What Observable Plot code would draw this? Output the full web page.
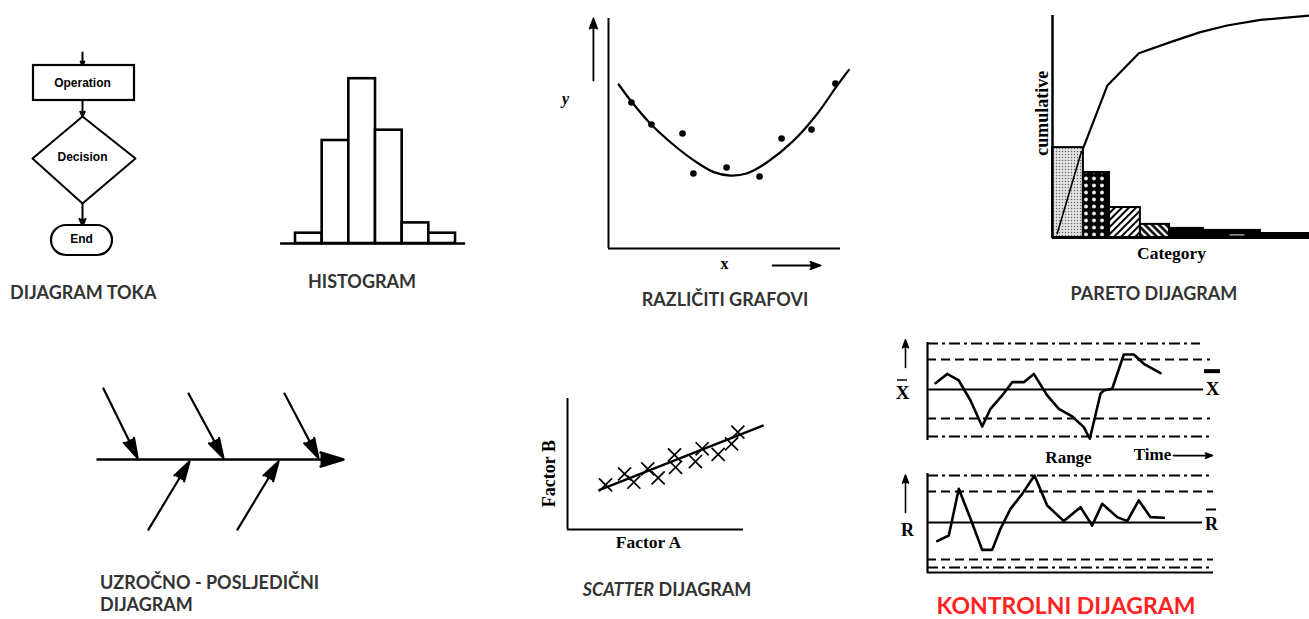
<!DOCTYPE html>
<html><head><meta charset="utf-8">
<script src="https://cdn.jsdelivr.net/npm/d3@7"></script>
<script src="https://cdn.jsdelivr.net/npm/@observablehq/plot@0.6"></script>
<style>
html,body{margin:0;padding:0;background:#fff;}
#page{position:relative;width:1309px;height:619px;overflow:hidden;background:#fff;}
.ttl{position:absolute;font-family:Lato,"Open Sans",sans-serif;font-weight:700;font-size:18px;color:#333;white-space:nowrap;line-height:1.1;}
.ctr{transform:translate(-50%,-50%);}
.lft{transform:translate(0,-50%);}
</style></head><body><div id="page"></div>
<script>
// ================= DATA =================
const titleFlow = "DIJAGRAM TOKA";
const titleHist = "HISTOGRAM";
const titleGraph = "RAZLIČITI GRAFOVI";
const titlePareto = "PARETO DIJAGRAM";
const titleFish = ["UZROČNO - POSLJEDIČNI", "DIJAGRAM"];
const titleScatter = ["SCATTER", " DIJAGRAM"];
const titleControl = "KONTROLNI DIJAGRAM";

const flowLabels = ["Operation", "Decision", "End"];

const histBins = [0, 1, 2, 3, 4, 5];
const histCounts = [1, 10, 16, 11, 2, 1];

const graphX = [0.99, 1.85, 3.19, 3.66, 5.09, 6.51, 7.46, 8.75, 9.78];
const graphY = [6.35, 5.39, 5.00, 3.26, 3.52, 3.13, 4.78, 5.17, 7.17];
const fitX = [0.44, 0.98, 1.81, 2.67, 3.68, 4.54, 5.26, 5.98, 6.84, 7.99, 9.00, 9.86, 10.36];
const fitY = [7.13, 6.40, 5.42, 4.62, 3.83, 3.32, 3.17, 3.27, 3.75, 4.70, 5.86, 7.09, 7.77];

const paretoValues = [40.5, 29.3, 13.5, 5.9, 4.1, 3.2, 1.8];
const paretoCumX = [1.03, 1.83, 2.88, 3.93, 4.93, 5.82, 6.93, 8.57];
const paretoCum = [40.5, 68.5, 83, 88, 92.5, 95.5, 98, 100];
const paretoAxis = ["cumulative", "Category"];

const scatterA = [2.16, 3.24, 3.77, 4.56, 5.15, 6.08, 6.14, 7.27, 7.65, 8.56, 9.32, 9.68];
const scatterB = [3.41, 4.25, 3.61, 4.63, 3.94, 5.70, 4.75, 5.19, 6.16, 5.73, 6.54, 7.43];
const trendA = [1.76, 11.14];
const trendB = [2.98, 7.94];
const scatterAxis = ["Factor A", "Factor B"];

const xbarT = [0.8, 1.97, 3.13, 4.3, 5.47, 6.3, 7.47, 8.47, 9.63, 10.63, 11.97, 13.13, 14.47, 15.63, 16.23, 17.3, 17.63, 18.47, 19.63, 20.63, 21.63, 23.3];
const xbarV = [0.41, 1.02, 0.59, -0.72, -2.42, -1.26, -0.39, 0.48, 0.48, 1.02, -0.39, -1.26, -1.76, -2.46, -3.22, -0.28, -0.07, 0.05, 2.29, 2.29, 1.68, 1.07];
const xbarLimits = [3.0, 1.96, 0, -1.9, -3.07];
const rangeT = [0.97, 2.13, 3.13, 4.3, 5.47, 6.47, 7.3, 8.3, 9.47, 10.7, 11.97, 13.63, 15.3, 16.47, 17.47, 18.97, 19.97, 21.13, 22.3, 23.63];
const rangeV = [-1.22, -0.85, 2.20, 0.24, -1.79, -1.79, -0.41, 0.89, 1.87, 3.07, 1.11, 0.09, 1.0, -0.2, 1.22, 0.35, 0.09, 1.44, 0.35, 0.31];
const rangeLimits = [3.07, 2.03, 0, -2.42, -2.94, -3.27];
const controlText = ["X", "R", "Range", "Time"];

// ================= LAYOUT / STYLE =================
const page = document.getElementById("page");
const serif = "'Liberation Serif', 'Times New Roman', serif";
const sans = "'Liberation Sans', Arial, sans-serif";

function panel(L, T, W, H, ox, sx, oy, sy, marks) {
  const svg = Plot.plot({
    width: W, height: H, margin: 0,
    x: {domain: [(L - ox) / sx, (L + W - ox) / sx], axis: null},
    y: {domain: [(oy - T - H) / sy, (oy - T) / sy], axis: null},
    style: {position: "absolute", left: L + "px", top: T + "px", background: "transparent", maxWidth: "none", overflow: "visible", color: "black"},
    marks
  });
  page.appendChild(svg);
  return svg;
}
function title(html, x, y, cls, extra) {
  const d = document.createElement("div");
  d.className = "ttl " + cls;
  d.style.left = x + "px"; d.style.top = y + "px";
  d.innerHTML = html;
  if (extra) Object.assign(d.style, extra);
  page.appendChild(d);
}
const zip = (xs, ys) => xs.map((x, i) => ({x, y: ys[i]}));
const arrowOpts = (len, ang, sw) => ({x1: "x1", y1: "y1", x2: "x2", y2: "y2", headLength: len, headAngle: ang, fill: "black", stroke: "black", strokeWidth: sw});

// ---- 1. Flowchart ----
const flowShapes = {
  box: [{x1: 3.3, x2: 13.4, y1: 16.5, y2: 20.0}],
  diamond: [{x: 8.2, y: 14.9}, {x: 13.5, y: 10.7}, {x: 8.2, y: 6.2}, {x: 3.2, y: 10.7}, {x: 8.2, y: 14.9}],
  end: [{x1: 5.1, x2: 11.2, y1: 1.0, y2: 4.0}],
  arrows: [{x1: 8.2, y1: 21.3, x2: 8.2, y2: 20.0}, {x1: 8.2, y1: 16.5, x2: 8.2, y2: 14.9}, {x1: 8.2, y1: 6.2, x2: 8.2, y2: 4.0}],
  labels: [{x: 8.2, y: 18.2}, {x: 8.2, y: 10.8}, {x: 8.1, y: 2.6}]
};
panel(0, 40, 180, 230, 0, 10, 265, 10, [
  Plot.arrow(flowShapes.arrows, arrowOpts(6, 50, 2)),
  Plot.rect(flowShapes.box, {x1: "x1", x2: "x2", y1: "y1", y2: "y2", fill: "white", stroke: "black", strokeWidth: 2.2}),
  Plot.line(flowShapes.diamond, {x: "x", y: "y", stroke: "black", strokeWidth: 2, fill: "white"}),
  Plot.rect(flowShapes.end, {x1: "x1", x2: "x2", y1: "y1", y2: "y2", rx: 15, fill: "white", stroke: "black", strokeWidth: 2.2}),
  Plot.text(flowLabels, {x: (d, i) => flowShapes.labels[i].x, y: (d, i) => flowShapes.labels[i].y, text: d => d, fontFamily: sans, fontWeight: "bold", fontSize: 12, fill: "black"})
]);
title(titleFlow, 10, 293, "lft");

// ---- 2. Histogram ----
const histData = histBins.map((b, i) => ({x1: b, x2: b + 1, y: histCounts[i]}));
panel(270, 60, 210, 200, 295, 26.67, 243, 10.3, [
  Plot.rect(histData, {x1: "x1", x2: "x2", y1: 0, y2: "y", fill: "white", stroke: "black", strokeWidth: 2.6}),
  Plot.ruleY([0], {x1: -0.56, x2: 6.38, strokeWidth: 2.6})
]);
title(titleHist, 362, 282, "ctr");

// ---- 3. Various graphs ----
panel(560, 10, 300, 275, 608, 23.2, 248, 23, [
  Plot.ruleX([0], {y1: 0, y2: 10, strokeWidth: 2}),
  Plot.ruleY([0], {x1: 0, x2: 10, strokeWidth: 2}),
  Plot.line(zip(fitX, fitY), {x: "x", y: "y", curve: "catmull-rom", strokeWidth: 2.2}),
  Plot.dot(zip(graphX, graphY), {x: "x", y: "y", r: 3.3, fill: "black"}),
  Plot.arrow([{x1: -0.65, y1: 7.3, x2: -0.65, y2: 10.0}], arrowOpts(9, 40, 1.8)),
  Plot.arrow([{x1: 7.07, y1: -0.74, x2: 9.14, y2: -0.74}], arrowOpts(9, 40, 1.8)),
  Plot.text(["y"], {x: -1.85, y: 6.52, text: d => d, fontFamily: serif, fontStyle: "italic", fontWeight: "bold", fontSize: 16}),
  Plot.text(["x"], {x: 5.0, y: -0.68, text: d => d, fontFamily: serif, fontWeight: "bold", fontSize: 16})
]);
title(titleGraph, 725, 300, "ctr");

// ---- 4. Pareto ----
const paretoEdges = [0, 1.03, 1.9, 2.93, 3.9, 5.03, 6.93, 8.6];
const paretoFills = ["url(#pt-stipple)", "url(#pt-dots)", "url(#pt-hatch)", "url(#pt-back)", "black", "black", "black"];
const paretoData = paretoValues.map((v, i) => ({x1: paretoEdges[i], x2: paretoEdges[i + 1], y: v, f: paretoFills[i]}));
const pSvg = panel(1010, 0, 299, 270, 1052, 30, 237, 2.22, [
  ...paretoData.map(d => Plot.rect([d], {x1: "x1", x2: "x2", y1: 0, y2: "y", fill: d.f, stroke: "black", strokeWidth: 2})),
  Plot.link([{x1: 0.15, y1: 1.5, x2: 0.97, y2: 39}], {x1: "x1", y1: "y1", x2: "x2", y2: "y2", strokeWidth: 1.6}),
  Plot.link([{x1: 5.9, y1: 1.2, x2: 6.4, y2: 1.2}], {x1: "x1", y1: "y1", x2: "x2", y2: "y2", stroke: "#999", strokeWidth: 1.5}),
  Plot.ruleX([0], {y1: 0, y2: 100, strokeWidth: 2.5}),
  Plot.ruleY([0], {x1: 0, x2: 8.6, strokeWidth: 3.2}),
  Plot.line(zip(paretoCumX, paretoCum), {x: "x", y: "y", strokeWidth: 2.2, curve: "linear"}),
  Plot.text([paretoAxis[0]], {x: -0.33, y: 56, text: d => d, rotate: -90, fontFamily: serif, fontWeight: "bold", fontSize: 18}),
  Plot.text([paretoAxis[1]], {x: 3.97, y: -7, text: d => d, fontFamily: serif, fontWeight: "bold", fontSize: 17.5})
]);
(function addPatterns(svg) {
  const defs = d3.select(svg).insert("defs", ":first-child");
  let p = defs.append("pattern").attr("id", "pt-stipple").attr("patternUnits", "userSpaceOnUse").attr("width", 3).attr("height", 3);
  p.append("rect").attr("width", 3).attr("height", 3).attr("fill", "#e4e4e4");
  p.append("circle").attr("cx", 1.5).attr("cy", 1.5).attr("r", 0.75).attr("fill", "#666");
  p = defs.append("pattern").attr("id", "pt-dots").attr("patternUnits", "userSpaceOnUse").attr("width", 8).attr("height", 7);
  p.append("rect").attr("width", 8).attr("height", 7).attr("fill", "black");
  p.append("circle").attr("cx", 4).attr("cy", 3.5).attr("r", 1.9).attr("fill", "#eee");
  p = defs.append("pattern").attr("id", "pt-hatch").attr("patternUnits", "userSpaceOnUse").attr("width", 5).attr("height", 5).attr("patternTransform", "rotate(45)");
  p.append("rect").attr("width", 5).attr("height", 5).attr("fill", "white");
  p.append("line").attr("x1", 1).attr("y1", 0).attr("x2", 1).attr("y2", 5).attr("stroke", "black").attr("stroke-width", 2);
  p = defs.append("pattern").attr("id", "pt-back").attr("patternUnits", "userSpaceOnUse").attr("width", 5).attr("height", 5).attr("patternTransform", "rotate(-45)");
  p.append("rect").attr("width", 5).attr("height", 5).attr("fill", "white");
  p.append("line").attr("x1", 1.5).attr("y1", 0).attr("x2", 1.5).attr("y2", 5).attr("stroke", "black").attr("stroke-width", 2.6);
})(pSvg);
title(titlePareto, 1154, 294, "ctr");

// ---- 5. Cause and effect ----
const fishCauses = [
  {x1: 0.24, y1: 2.89, x2: 1.63, y2: 0.06},
  {x1: 3.70, y1: 2.68, x2: 5.12, y2: 0.06},
  {x1: 7.60, y1: 2.68, x2: 8.98, y2: 0.06},
  {x1: 2.07, y1: -2.85, x2: 3.74, y2: -0.08},
  {x1: 5.69, y1: -2.85, x2: 7.36, y2: -0.08}
];
panel(80, 370, 290, 180, 97, 24.6, 459, 24.6, [
  Plot.arrow([{x1: 0, y1: 0, x2: 10, y2: 0}], arrowOpts(15, 34, 2.4)),
  Plot.arrow(fishCauses, arrowOpts(14, 32, 2.2))
]);
title(titleFish[0], 100, 583, "lft");
title(titleFish[1], 100, 605, "lft");

// ---- 6. Scatter ----
panel(530, 390, 250, 165, 567, 17.6, 529, 13.1, [
  Plot.ruleX([0], {y1: 0, y2: 10, strokeWidth: 2}),
  Plot.ruleY([0], {x1: 0, x2: 10, strokeWidth: 2}),
  Plot.link([{x1: trendA[0], y1: trendB[0], x2: trendA[1], y2: trendB[1]}], {x1: "x1", y1: "y1", x2: "x2", y2: "y2", strokeWidth: 2.4}),
  Plot.dot(zip(scatterA, scatterB), {x: "x", y: "y", symbol: "times", r: 6, stroke: "black", strokeWidth: 1.7}),
  Plot.text([scatterAxis[0]], {x: 4.6, y: -0.99, text: d => d, fontFamily: serif, fontWeight: "bold", fontSize: 17.5}),
  Plot.text([scatterAxis[1]], {x: -1.05, y: 4.27, text: d => d, rotate: -90, fontFamily: serif, fontWeight: "bold", fontSize: 18})
]);
title(`<i>${titleScatter[0]}</i>${titleScatter[1]}`, 667, 590, "ctr");

// ---- 7. Control charts ----
const lineKinds = {dashdot: "11,4,3,4", dash: "9,5", solid: null};
const xbarKinds = ["dashdot", "dash", "solid", "dash", "dashdot"];
const xbarEnds = [27.3, 28.3, 27.6, 28.3, 28.3];
const rangeKinds = ["dashdot", "dash", "solid", "dash", "dashdot", "solid"];
const rangeEnds = [28.6, 28.6, 27.5, 28.6, 28.6, 28.6];
function limitMarks(values, kinds, ends) {
  const rows = values.map((v, i) => ({v, k: kinds[i], e: ends[i]}));
  return Object.keys(lineKinds).map(k => Plot.ruleY(rows.filter(r => r.k === k), {y: "v", x1: 0, x2: "e", strokeWidth: 2, strokeDasharray: lineKinds[k] || undefined}));
}
const tx = {fontFamily: serif, fontWeight: "bold", fill: "black"};
panel(890, 330, 340, 140, 927, 10, 389, 15.3, [
  ...limitMarks(xbarLimits, xbarKinds, xbarEnds),
  Plot.ruleX([0], {y1: -3.33, y2: 3.07, strokeWidth: 2.2}),
  Plot.line(zip(xbarT, xbarV), {x: "x", y: "y", strokeWidth: 2.6, strokeLinejoin: "round"}),
  Plot.arrow([{x1: -2.2, y1: 1.44, x2: -2.2, y2: 3.25}], arrowOpts(8, 40, 1.6)),
  Plot.text([controlText[0]], {x: -2.5, y: -0.25, text: d => d, fontSize: 19, ...tx}),
  Plot.ruleY([0.62], {x1: -3.0, x2: -2.0, strokeWidth: 1.5}),
  Plot.text([controlText[0]], {x: 28.5, y: 0.05, text: d => d, fontSize: 19, ...tx}),
  Plot.ruleY([1.2], {x1: 27.7, x2: 29.3, strokeWidth: 4}),
  Plot.text([controlText[2]], {x: 14.1, y: -4.45, text: d => d, fontSize: 17, ...tx}),
  Plot.text([controlText[3]], {x: 22.5, y: -4.25, text: d => d, fontSize: 17, ...tx}),
  Plot.arrow([{x1: 24.6, y1: -4.32, x2: 28.5, y2: -4.32}], arrowOpts(7, 40, 1.6))
]);
panel(890, 462, 340, 120, 927, 10, 522, 15.3, [
  ...limitMarks(rangeLimits, rangeKinds, rangeEnds),
  Plot.ruleX([0], {y1: -3.33, y2: 3.2, strokeWidth: 2.2}),
  Plot.line(zip(rangeT, rangeV), {x: "x", y: "y", strokeWidth: 2.6, strokeLinejoin: "round"}),
  Plot.arrow([{x1: -2.2, y1: 0.65, x2: -2.2, y2: 3.1}], arrowOpts(8, 40, 1.6)),
  Plot.text([controlText[1]], {x: -2.0, y: -0.5, text: d => d, fontSize: 18, ...tx}),
  Plot.text([controlText[1]], {x: 28.4, y: -0.12, text: d => d, fontSize: 18, ...tx}),
  Plot.ruleY([0.85], {x1: 27.9, x2: 28.9, strokeWidth: 2})
]);
title(titleControl, 1066, 605, "ctr", {color: "#ff2222", fontSize: "23px", lineHeight: "1"});
</script></body></html>
